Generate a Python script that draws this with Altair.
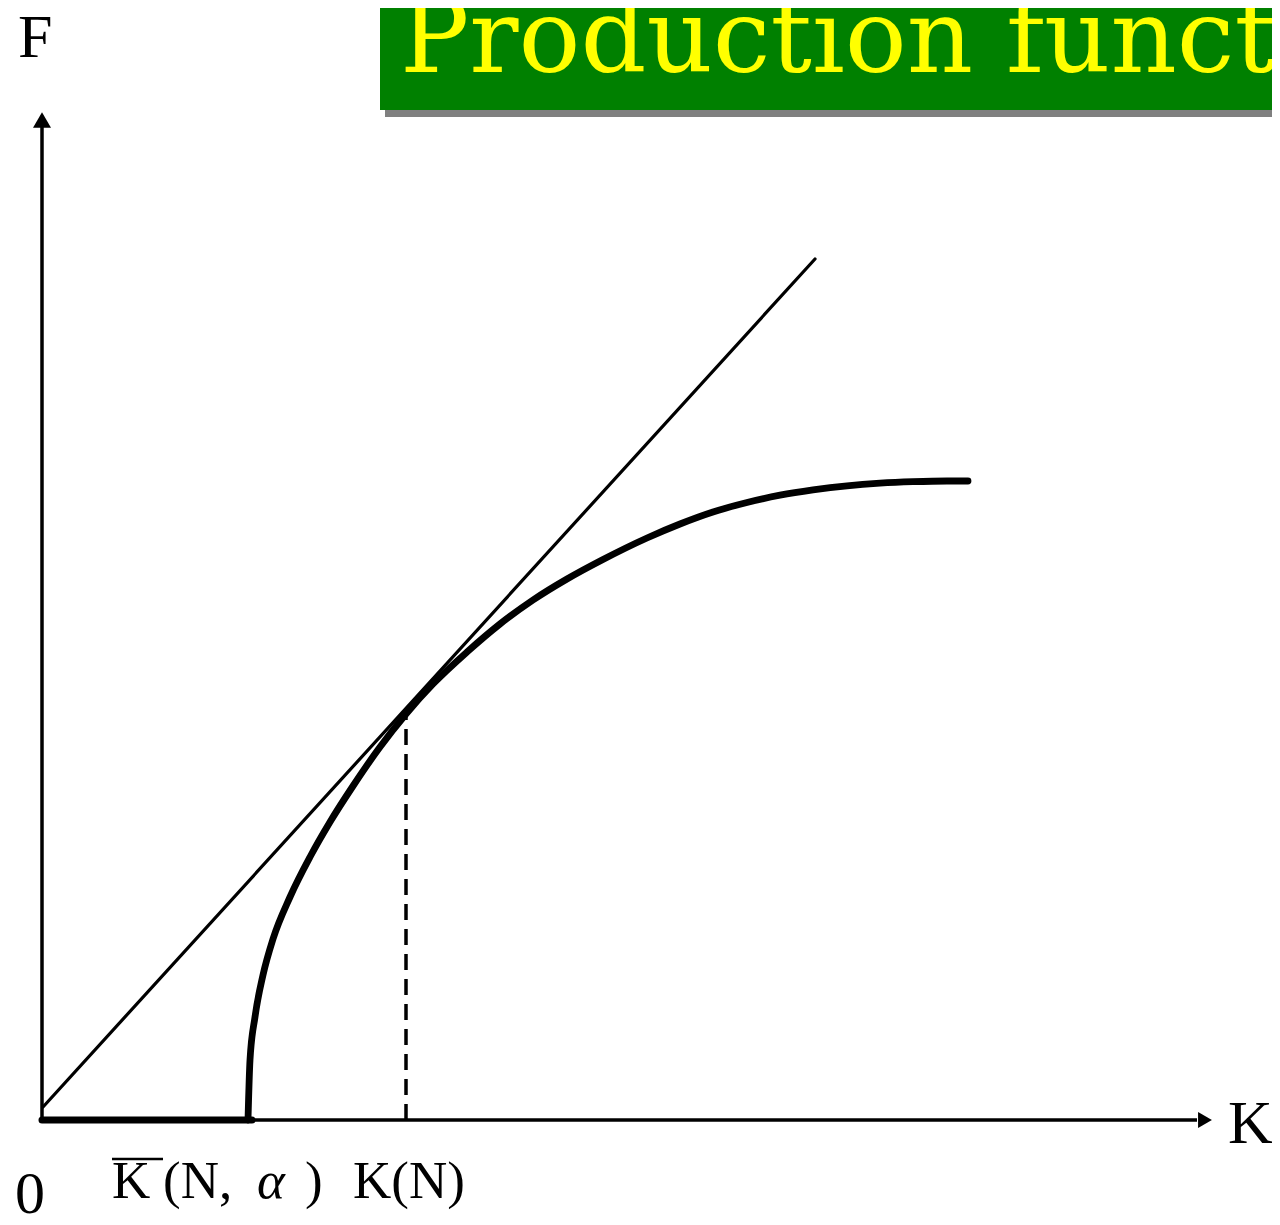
import altair as alt
import pandas as pd

# ---- data (K horizontal, F vertical; origin at axes corner) ----
curve_K = [2.06, 2.08, 2.13, 2.21, 2.31, 2.48, 2.68, 2.88, 3.11, 3.38, 3.64, 3.91, 4.25,
           4.58, 4.91, 5.25, 5.60, 6.05, 6.38, 6.71, 7.05, 7.38, 7.71, 8.05, 8.38, 8.71,
           9.05, 9.26]
curve_F = [0.00, 0.60, 1.03, 1.45, 1.81, 2.23, 2.63, 2.98, 3.34, 3.73, 4.06, 4.36, 4.68,
           4.96, 5.20, 5.41, 5.60, 5.82, 5.96, 6.08, 6.175, 6.248, 6.301, 6.342, 6.368, 6.383,
           6.39, 6.39]

ray_K = [0.01, 7.73]          # straight line from the origin, tangent at K(N)
ray_F = [0.13, 8.61]

K_bar_end = 2.10              # thick segment on the K axis: 0 .. K-bar(N, alpha)
K_N = 3.64                    # K(N), tangency point
F_KN = 4.05

axis_K_max = 11.55
axis_F_max = 9.93

# label texts and anchors
label_text = ["F", "K", "0", "K", "(N,", ")", "K(N)"]
label_K = [-0.24, 11.86, -0.27, 0.70, 1.21, 2.63, 3.11]
label_F = [10.63, -0.23, -0.93, -0.78, -0.78, -0.78, -0.78]
label_size = [62, 62, 60, 53, 53, 53, 53]
alpha_text = ["\u03b1"]
alpha_K = [2.15]
alpha_F = [-0.78]
overline_K = [0.70, 1.21]
overline_F = -0.39

title_text = "Production function"
title_box_K = [3.38, 12.40]
title_box_F = [10.10, 11.25]
shadow_K = [3.43, 12.40]
shadow_F = [10.03, 11.25]
title_anchor = (3.58, 10.48)

# ---- scales: 100 px per unit both ways ----
xs = alt.Scale(domain=[-0.34, 12.30], nice=False, zero=False)
ys = alt.Scale(domain=[-0.97, 11.12], nice=False, zero=False)
X = lambda f: alt.X(f, type="quantitative", scale=xs, axis=None)
Y = lambda f: alt.Y(f, type="quantitative", scale=ys, axis=None)

shadow = alt.Chart(pd.DataFrame({"k1": [shadow_K[0]], "k2": [shadow_K[1]],
                                 "f1": [shadow_F[0]], "f2": [shadow_F[1]]})).mark_rect(
    color="#808080", clip=True).encode(x=X("k1"), x2="k2", y=Y("f1"), y2="f2")
box = alt.Chart(pd.DataFrame({"k1": [title_box_K[0]], "k2": [title_box_K[1]],
                              "f1": [title_box_F[0]], "f2": [title_box_F[1]]})).mark_rect(
    color="#008000", clip=True).encode(x=X("k1"), x2="k2", y=Y("f1"), y2="f2")
title = alt.Chart(pd.DataFrame({"k": [title_anchor[0]], "f": [title_anchor[1]],
                                "t": [title_text]})).mark_text(
    align="left", baseline="alphabetic", font="DejaVu Serif", fontSize=103,
    color="#FFFF00", clip=True).encode(x=X("k"), y=Y("f"), text="t:N")

axes_df = pd.DataFrame({"k1": [0, 0], "k2": [0, axis_K_max], "f1": [0, 0], "f2": [axis_F_max, 0]})
axes = alt.Chart(axes_df).mark_rule(color="black", strokeWidth=3.5).encode(
    x=X("k1"), x2="k2", y=Y("f1"), y2="f2")

arrows_df = pd.DataFrame({"k": [0, 11.63], "f": [10.00, 0], "s": ["triangle-up", "triangle-right"],
                          "z": [324, 256]})
arrows = alt.Chart(arrows_df).mark_point(filled=True, color="black", opacity=1, strokeWidth=0).encode(
    x=X("k"), y=Y("f"),
    shape=alt.Shape("s:N", scale=None, legend=None),
    size=alt.Size("z:Q", scale=None, legend=None))

base_seg = alt.Chart(pd.DataFrame({"k1": [0.0], "k2": [K_bar_end], "f1": [0.0], "f2": [0.0]})).mark_rule(
    color="black", strokeWidth=7, strokeCap="round").encode(x=X("k1"), x2="k2", y=Y("f1"), y2="f2")

ray = alt.Chart(pd.DataFrame({"k1": [ray_K[0]], "k2": [ray_K[1]], "f1": [ray_F[0]], "f2": [ray_F[1]]})).mark_rule(
    color="black", strokeWidth=3.2, strokeCap="round").encode(x=X("k1"), x2="k2", y=Y("f1"), y2="f2")

dashed = alt.Chart(pd.DataFrame({"k1": [K_N], "k2": [K_N], "f1": [0.0], "f2": [F_KN]})).mark_rule(
    color="black", strokeWidth=3.5, strokeDash=[16, 9]).encode(x=X("k1"), x2="k2", y=Y("f1"), y2="f2")

curve = alt.Chart(pd.DataFrame({"k": curve_K, "f": curve_F, "i": list(range(len(curve_K)))})).mark_line(
    color="black", strokeWidth=6.8, strokeCap="round", interpolate="monotone").encode(
    x=X("k"), y=Y("f"), order="i:Q")

labels = alt.Chart(pd.DataFrame({"k": label_K, "f": label_F, "t": label_text, "s": label_size})).mark_text(
    align="left", baseline="alphabetic", font="Liberation Serif", color="black").encode(
    x=X("k"), y=Y("f"), text="t:N", size=alt.Size("s:Q", scale=None, legend=None))

alpha = alt.Chart(pd.DataFrame({"k": alpha_K, "f": alpha_F, "t": alpha_text})).mark_text(
    align="left", baseline="alphabetic", font="Liberation Serif", fontStyle="italic",
    fontSize=53, color="black").encode(x=X("k"), y=Y("f"), text="t:N")

overline = alt.Chart(pd.DataFrame({"k1": [overline_K[0]], "k2": [overline_K[1]],
                                   "f1": [overline_F], "f2": [overline_F]})).mark_rule(
    color="black", strokeWidth=2.5).encode(x=X("k1"), x2="k2", y=Y("f1"), y2="f2")

chart = alt.layer(shadow, box, title, axes, arrows, base_seg, ray, dashed, curve,
                  labels, alpha, overline).properties(
    width=1264, height=1209, padding=0,
    autosize=alt.AutoSizeParams(type="none"), background="white"
).configure_view(stroke=None)

chart.save("out.html", embed_options={"renderer": "svg", "actions": False})
